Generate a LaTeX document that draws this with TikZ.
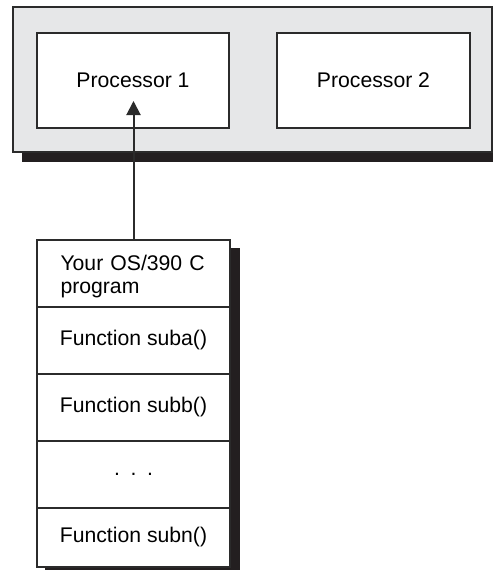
\documentclass[tikz,border=0pt]{standalone}
\usepackage{fontspec}
\setmainfont{Liberation Sans}
\usetikzlibrary{arrows.meta}
\definecolor{panelgray}{HTML}{E6E7E8}
\definecolor{shadowc}{HTML}{231F20}
\definecolor{linec}{HTML}{2B2B2B}
\tikzset{
  box/.style={draw=linec, line width=1.7pt, fill=white, inner sep=0pt, font=\fontsize{21.2}{23.5}\selectfont},
  panel/.style={draw=linec, line width=1.7pt, fill=panelgray},
  sect/.style={box, minimum width=193pt, minimum height=67pt},
  plain/.style={inner sep=0pt, font=\fontsize{21.2}{23.5}\selectfont},
  link/.style={draw=linec, line width=2pt, -{Triangle[width=14pt,length=14pt]}}
}
\begin{document}
\begin{tikzpicture}[x=1pt,y=-1pt]
\useasboundingbox (0,0) rectangle (493,579);
% system panel
\fill[shadowc] (22,152) rectangle (493,162);
\node[panel, minimum width=479pt, minimum height=145pt, inner sep=0pt] (sys) at (252.5,79.5) {};
\node[box, minimum width=192pt, minimum height=95pt] (p1) at (133,80.5) {Processor 1};
\node[box, minimum width=193pt, minimum height=95pt] (p2) at (373.5,80.5) {Processor 2};
% program stack
\fill[shadowc] (45,248) rectangle (240,570);
\node[sect] (prog) at (133.5,273.5) {};
\node[plain, text width=146pt, align=left] (progtext) at (133.5,276.5) {Your OS/390 C\\program};
\node[sect] (suba) at (133.5,340.5) {Function suba()};
\node[sect] (subb) at (133.5,407.5) {Function subb()};
\node[sect] (dots) at (133.5,474.5) {.\enspace.\enspace.};
\node[sect, minimum height=59pt] (subn) at (133.5,537.5) {Function subn()};
% arrow
\coordinate (tip) at (133.5,101);
\draw[link] (prog.north) -- (tip);
\end{tikzpicture}
\end{document}
